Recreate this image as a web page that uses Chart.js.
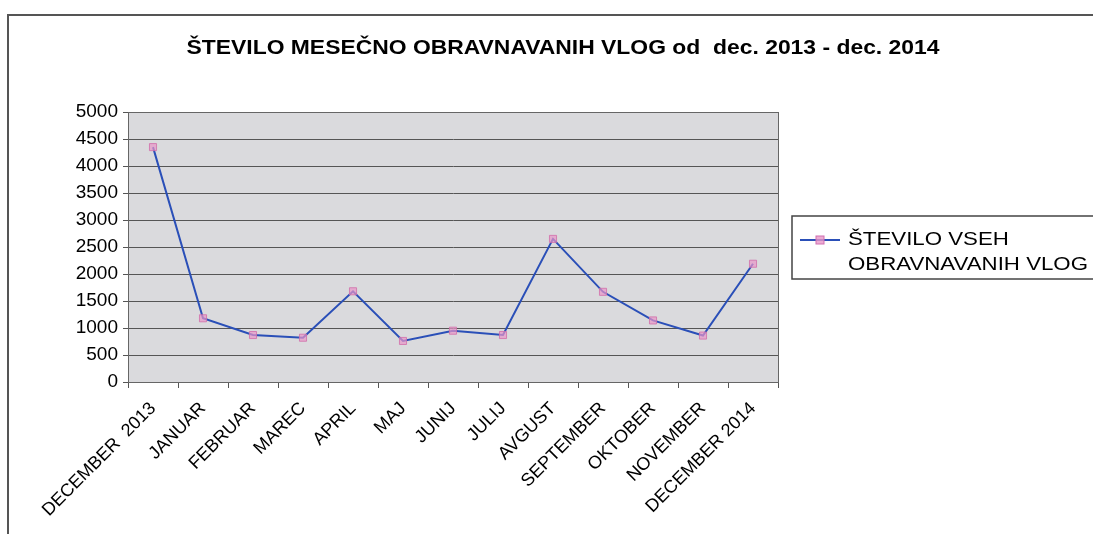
<!DOCTYPE html>
<html>
<head>
<meta charset="utf-8">
<script src="https://cdn.jsdelivr.net/npm/chart.js@4"></script>
<style>
  html, body { margin: 0; padding: 0; background: #fff; }
  canvas { display: block; }
</style>
</head>
<body>
<canvas id="chart" width="1093" height="534"></canvas>
<script>
// podatki
const months = ['DECEMBER  2013', 'JANUAR', 'FEBRUAR', 'MAREC', 'APRIL', 'MAJ', 'JUNIJ',
    'JULIJ', 'AVGUST', 'SEPTEMBER', 'OKTOBER', 'NOVEMBER', 'DECEMBER 2014'];
const vloge = [4350, 1180, 870, 820, 1680, 760, 950, 870, 2650, 1670, 1140, 860, 2190];
const seriesName = ['ŠTEVILO VSEH', 'OBRAVNAVANIH VLOG'];
const chartTitle = 'ŠTEVILO MESEČNO OBRAVNAVANIH VLOG od  dec. 2013 - dec. 2014';

const FONT = '"Liberation Sans", Arial, sans-serif';

// ozadje, okvir, naslov in legenda
const decor = {
    id: 'decor',
    beforeDraw(chart) {
        const { ctx, chartArea: a } = chart;
        ctx.save();
        ctx.fillStyle = '#dadadd';
        ctx.fillRect(a.left, a.top, a.right - a.left, a.bottom - a.top);
        // zunanji okvir
        ctx.strokeStyle = '#555';
        ctx.lineWidth = 2;
        ctx.beginPath();
        ctx.moveTo(8, 534);
        ctx.lineTo(8, 15);
        ctx.lineTo(1093, 15);
        ctx.stroke();
        ctx.restore();
    },
    afterDraw(chart) {
        const { ctx, chartArea: a } = chart;
        ctx.save();
        // okvir risalne ploskve
        ctx.strokeStyle = '#666';
        ctx.lineWidth = 1;
        ctx.strokeRect(a.left + 0.5, a.top + 0.5, a.right - a.left, a.bottom - a.top);

        // naslov (v izvirniku je malo raztegnjen po širini)
        ctx.fillStyle = '#000';
        ctx.font = 'bold 20px ' + FONT;
        ctx.textAlign = 'center';
        ctx.textBaseline = 'middle';
        const w = ctx.measureText(chartTitle).width;
        ctx.translate(563, 48);
        ctx.scale(753 / w, 1);
        ctx.fillText(chartTitle, 0, 0);
        ctx.setTransform(1, 0, 0, 1, 0, 0);

        // legenda
        ctx.strokeStyle = '#444';
        ctx.lineWidth = 1.5;
        ctx.strokeRect(792, 216, 320, 63);
        ctx.strokeStyle = '#2a4fb8';
        ctx.lineWidth = 2;
        ctx.beginPath();
        ctx.moveTo(800, 240);
        ctx.lineTo(840, 240);
        ctx.stroke();
        ctx.fillStyle = 'rgba(232,150,200,0.8)';
        ctx.strokeStyle = '#d070b0';
        ctx.lineWidth = 1;
        ctx.fillRect(816, 236, 8, 8);
        ctx.strokeRect(816, 236, 8, 8);
        ctx.fillStyle = '#000';
        ctx.font = '19px ' + FONT;
        ctx.textAlign = 'left';
        const lw = ctx.measureText(seriesName[1]).width;
        ctx.translate(848, 0);
        ctx.scale(240 / lw, 1);
        ctx.fillText(seriesName[0], 0, 240);
        ctx.fillText(seriesName[1], 0, 265);
        ctx.restore();
    }
};

new Chart(document.getElementById('chart'), {
    type: 'line',
    data: {
        labels: months,
        datasets: [{
            label: seriesName.join(' '),
            data: vloge,
            borderColor: '#2a4fb8',
            borderWidth: 2,
            tension: 0,
            pointStyle: 'rect',
            pointRadius: 5,
            pointBackgroundColor: 'rgba(232,150,200,0.7)',
            pointBorderColor: 'rgba(210,110,170,0.8)',
            pointBorderWidth: 1
        }]
    },
    options: {
        responsive: false,
        animation: false,
        layout: { padding: { top: 112, left: 60, right: 315, bottom: 0 } },
        plugins: {
            legend: { display: false },
            title: { display: false },
            tooltip: { enabled: false }
        },
        scales: {
            x: {
                offset: true,
                grid: {
                    offset: true,
                    drawOnChartArea: false,
                    drawTicks: true,
                    tickLength: 6,
                    color: '#555'
                },
                border: { color: '#555', width: 1 },
                ticks: {
                    autoSkip: false,
                    minRotation: 45,
                    maxRotation: 45,
                    color: '#000',
                    padding: 10,
                    font: { family: FONT, size: 18 }
                },
                afterFit(scale) { scale.height = 152; }
            },
            y: {
                min: 0,
                max: 5000,
                ticks: {
                    stepSize: 500,
                    color: '#000',
                    padding: 5,
                    font: { family: FONT, size: 19 },
                    callback: (v) => String(v)
                },
                grid: {
                    color: '#555',
                    lineWidth: 1,
                    tickLength: 5
                },
                border: { color: '#555', width: 1 },
                afterFit(scale) { scale.width = 68; }
            }
        }
    },
    plugins: [decor]
});
</script>
</body>
</html>
